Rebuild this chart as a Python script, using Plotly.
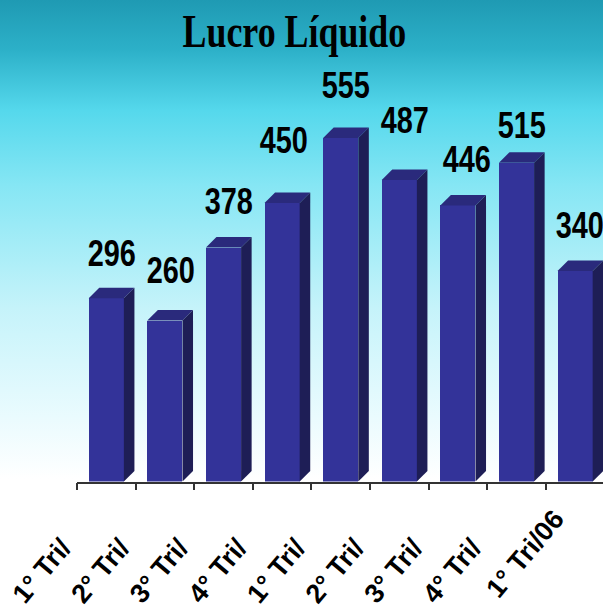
import base64
import plotly.graph_objects as go

# Quarterly net income
quarters = ["1° Tri/", "2° Tri/", "3° Tri/", "4° Tri/",
            "1° Tri/", "2° Tri/", "3° Tri/", "4° Tri/", "1° Tri/06"]
lucro = [296, 260, 378, 450, 555, 487, 446, 515, 340]

title_text = "Lucro Líquido"

# value-label nudges in pixels (x, y above the box top)
label_nudge_x = [0, 1, 0, -3, 0, 0, 4, 0, 0]
label_lift = [12, 17, 13, 29, 19, 27, 13, 4, 13]

W, H = 603, 614
FRONT = "#333399"
TOP = "#2A2A7C"
SIDE = "#1E1E56"
BAR_W = 0.6      # front face width in category units
DX = 0.18        # depth offset (x units)
DY = 17          # depth offset (y units)
NARROW = 0.78    # horizontal squeeze applied to the annotation texts

x_idx = list(range(len(lucro)))

fig = go.Figure()

# front faces
fig.add_trace(go.Bar(
    x=x_idx, y=lucro, width=BAR_W,
    marker=dict(color=FRONT, line=dict(width=0)),
    hoverinfo="skip", showlegend=False,
))

# top and side faces of each box
for i, v in zip(x_idx, lucro):
    l, r = i - BAR_W / 2, i + BAR_W / 2
    fig.add_trace(go.Scatter(
        x=[l, r, r + DX, l + DX, l], y=[v, v, v + DY, v + DY, v],
        fill="toself", fillcolor=TOP, mode="lines", line=dict(width=0),
        hoverinfo="skip", showlegend=False,
    ))
    fig.add_trace(go.Scatter(
        x=[r, r + DX, r + DX, r, r], y=[0, DY, v + DY, v, 0],
        fill="toself", fillcolor=SIDE, mode="lines", line=dict(width=0),
        hoverinfo="skip", showlegend=False,
    ))

# value labels above each box
for i, v in enumerate(lucro):
    fig.add_annotation(
        x=i + DX / 2, y=v + DY, xref="x", yref="y",
        text=str(v), showarrow=False, yanchor="bottom", xanchor="center",
        xshift=label_nudge_x[i], yshift=label_lift[i],
        font=dict(family="Liberation Sans, Arial, sans-serif",
                  size=37, color="black", weight="bold"),
    )

# chart title
fig.add_annotation(
    x=294 / W, y=1 - 31 / H, xref="paper", yref="paper",
    text=title_text, showarrow=False, xanchor="center", yanchor="middle",
    font=dict(family="Liberation Serif, Times New Roman, serif", size=46,
              color="black", weight="bold"),
)

# sky gradient background
svg = (
    '<svg xmlns="http://www.w3.org/2000/svg" width="603" height="614" preserveAspectRatio="none">'
    '<defs><linearGradient id="g" x1="0" y1="0" x2="0" y2="1">'
    '<stop offset="0" stop-color="#1F9AB3"/>'
    '<stop offset="0.08" stop-color="#2CB0C8"/>'
    '<stop offset="0.18" stop-color="#55D8EC"/>'
    '<stop offset="0.30" stop-color="#85E6F4"/>'
    '<stop offset="0.50" stop-color="#C5F3FA"/>'
    '<stop offset="0.68" stop-color="#EAFBFE"/>'
    '<stop offset="0.78" stop-color="#FFFFFF"/>'
    '<stop offset="1" stop-color="#FFFFFF"/>'
    '</linearGradient></defs>'
    '<rect width="603" height="614" fill="url(#g)"/></svg>'
)
bg_src = "data:image/svg+xml;base64," + base64.b64encode(svg.encode()).decode()
fig.add_layout_image(
    source=bg_src, xref="paper", yref="paper", x=0, y=1, sizex=1, sizey=1,
    xanchor="left", yanchor="top", sizing="stretch", layer="below",
)

# short labels keep the same end point as the full-length one
tick_text = [q + "\u00a0" * 5 if q.endswith("/") else q for q in quarters]

x_left = 77
cat_px = 58.6
y_base = 481.5
y_top_val = y_base / 0.619

fig.update_layout(
    width=W, height=H, autosize=False,
    margin=dict(l=0, r=0, t=0, b=0, autoexpand=False),
    paper_bgcolor="white", plot_bgcolor="rgba(0,0,0,0)",
    bargap=0,
    xaxis=dict(
        domain=[x_left / W, 1],
        range=[-0.5, -0.5 + (W - x_left) / cat_px],
        tickmode="array", tickvals=x_idx, ticktext=tick_text,
        ticks="", tickangle=-50, automargin=False,
        ticklabelshift=-20, ticklabelstandoff=9,
        tickfont=dict(family="Liberation Sans, Arial, sans-serif", size=27,
                      color="black", weight="bold"),
        showline=True, linecolor="#333333", linewidth=1.5,
        showgrid=False, zeroline=False,
        minor=dict(tickmode="array", tickvals=[k - 0.5 for k in range(len(lucro) + 1)],
                   ticks="outside", ticklen=7, tickwidth=1.5, tickcolor="#333333",
                   showgrid=False),
        fixedrange=True,
    ),
    yaxis=dict(
        domain=[(H - y_base) / H, 1],
        range=[0, y_top_val], automargin=False,
        visible=False, showgrid=False, zeroline=False, fixedrange=True,
    ),
)

# condensed lettering for the value labels and title
squeeze_js = """
var gd = document.getElementById('{plot_id}');
gd.querySelectorAll('text.annotation-text').forEach(function (t) {
  t.style.transformBox = 'fill-box';
  t.style.transformOrigin = 'center';
  t.style.transform = 'scaleX(%s)';
});
""" % NARROW

fig.write_html("out.html", post_script=squeeze_js)
